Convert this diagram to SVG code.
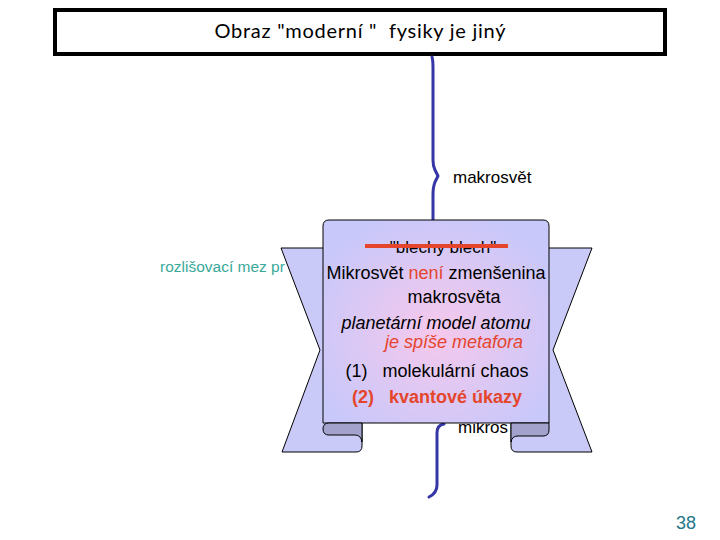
<svg xmlns="http://www.w3.org/2000/svg" width="720" height="540" viewBox="0 0 720 540">
<style>
.t{font-family:"Liberation Sans",Arial,sans-serif;font-size:18px;fill:#000}
.red{fill:#e4452c}
.brace{fill:none;stroke:#3636a6;stroke-width:3;stroke-linecap:round;stroke-linejoin:round}
.rib{fill:#cacaf8;stroke:#000;stroke-width:1}
.dark{fill:#a2a2cc;stroke:#000;stroke-width:1}
</style>
<defs>
<radialGradient id="g" cx="50%" cy="55%" r="60%">
<stop offset="0" stop-color="#f6c8ec"/>
<stop offset="1" stop-color="#c8c8fa"/>
</radialGradient>
</defs>
<rect width="720" height="540" fill="#fff"/>
<g id="title">
<rect x="55" y="10" width="610" height="44" fill="#fff" stroke="#000" stroke-width="4"/>
<text x="360" y="38" text-anchor="middle" xml:space="preserve" style="font-family:Lato,'DejaVu Sans',sans-serif;font-size:20px" textLength="291" lengthAdjust="spacing">Obraz "moderní "  fysiky je jiný</text>
</g>
<g id="connectors">
<path class="brace" d="M432,57 Q433,60 433,68 L433,160 Q433,166 435,170 L438,176 L435,182 Q433,187 433,195 L433,224"/>
<path class="brace" d="M444,424 Q437,425 437,433 L437,485 Q437,493 429,497"/>
</g>
<g id="labels">
<text x="160" y="272" style="font-family:'Liberation Sans',Arial,sans-serif;font-size:15.5px;fill:#3aa99a">rozlišovací mez pr</text>
<text class="t" x="453" y="183" style="font-size:17px">makrosvět</text>
<text class="t" x="458" y="433" style="font-size:17px">mikros</text>
<text x="686" y="529" text-anchor="middle" style="font-family:'Liberation Sans',Arial,sans-serif;font-size:18px;fill:#24768a">38</text>
</g>
<g id="scroll">
<path class="rib" d="M340,248 L281,248 L320,350 L282,452 L356,452 Q362,452 362,446 L362,423 L340,423 Z"/>
<path class="rib" d="M530,248 L592,248 L553,350 L592,452 L517,452 Q511,452 511,446 L511,423 L530,423 Z"/>
<path d="M323,423 V226 Q323,220 329,220 H543 Q549,220 549,226 V423 Z" fill="url(#g)" stroke="#000" stroke-width="1"/>
<path class="dark" d="M329,423 L362,423 L362,442 Q361,435 355,435 L329,435 Q323,435 323,429 Q323,423 329,423 Z"/>
<path class="dark" d="M511,423 L549,423 L549,430 Q549,436 543,436 L518,436 Q512,436 511,442 Z"/>
<text class="t" x="443" y="253" text-anchor="middle" style="font-size:17px">"blechy blech"</text>
<line x1="365" y1="246" x2="508" y2="246" stroke="#e4452c" stroke-width="4"/>
<text class="t" x="436" y="279" text-anchor="middle">Mikrosvět <tspan class="red">není</tspan> zmenšenina</text>
<text class="t" x="454" y="303" text-anchor="middle">makrosvěta</text>
<text class="t" x="436" y="329" text-anchor="middle" font-style="italic">planetární model atomu</text>
<text class="t red" x="454" y="348" text-anchor="middle" font-style="italic">je spíše metafora</text>
<text class="t" x="437" y="377" text-anchor="middle" xml:space="preserve">(1)   molekulární chaos</text>
<text class="t red" x="437" y="403" text-anchor="middle" font-weight="bold" xml:space="preserve">(2)   kvantové úkazy</text>
</g>
</svg>
